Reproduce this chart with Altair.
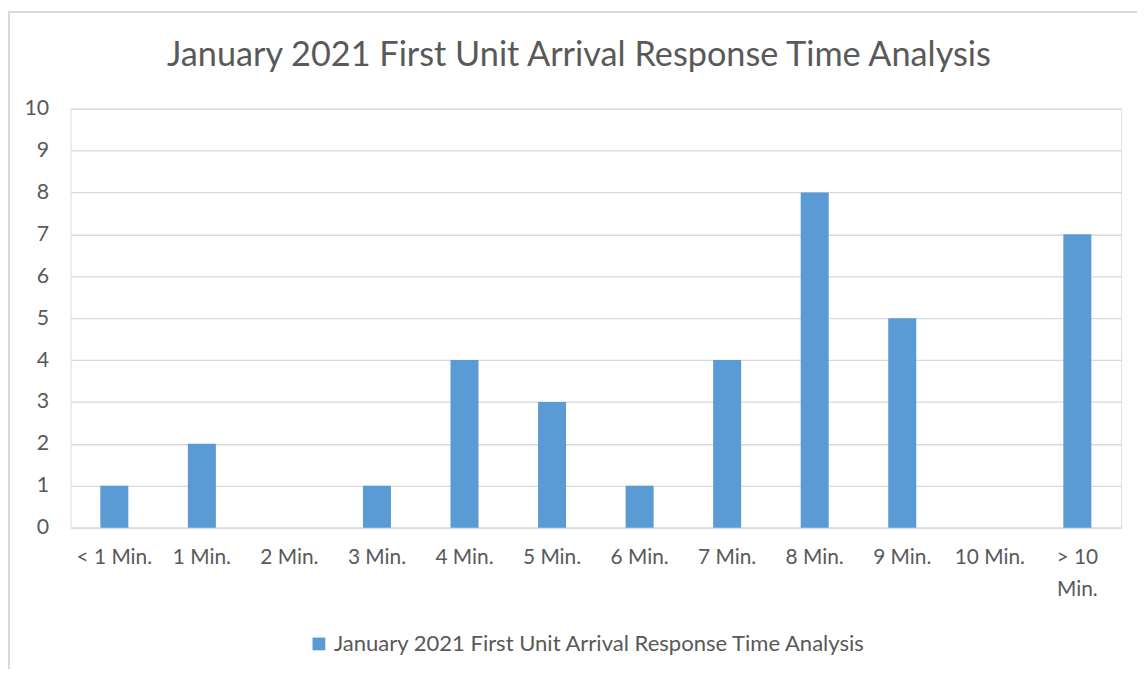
import altair as alt
import pandas as pd

categories = ["< 1 Min.", "1 Min.", "2 Min.", "3 Min.", "4 Min.", "5 Min.",
              "6 Min.", "7 Min.", "8 Min.", "9 Min.", "10 Min.", "> 10 Min."]
counts = [1, 2, 0, 1, 4, 3, 1, 4, 8, 5, 0, 7]
series_name = "January 2021 First Unit Arrival Response Time Analysis"
chart_title = "January 2021 First Unit Arrival Response Time Analysis"
y_ticks = list(range(0, 11))

df = pd.DataFrame({"cat": categories, "count": counts, "series": series_name})
title_df = pd.DataFrame({"t": [chart_title]})

FONT = "Lato"
GREY = "#595959"
GRID = "#d9d9d9"

base = alt.Chart(df)

bars = base.mark_bar(color="#5B9BD5").encode(
    x=alt.X("cat:N", sort=categories,
            scale=alt.Scale(paddingInner=0.68, paddingOuter=0.34),
            axis=alt.Axis(title=None, labelAngle=0, ticks=False, domain=True,
                          domainColor=GRID, domainWidth=1, labelPadding=19,
                          labelFontSize=21, labelColor=GREY, labelFont=FONT,
                          labelBaseline="top", labelLineHeight=32,
                          labelExpr="datum.label == '> 10 Min.' ? ['> 10', 'Min.'] : datum.label")),
    y=alt.Y("count:Q", scale=alt.Scale(domain=[0, 10], nice=False),
            axis=alt.Axis(title=None, values=y_ticks, ticks=False, domain=False,
                          grid=True, gridColor=GRID, gridWidth=1.3,
                          labelPadding=22, labelFontSize=21.5, labelColor=GREY,
                          labelFont=FONT)),
    color=alt.Color("series:N",
                    scale=alt.Scale(range=["#5B9BD5"]),
                    legend=alt.Legend(title=None, orient="none", legendX=239, legendY=528,
                                      symbolType="square", symbolSize=165,
                                      symbolStrokeWidth=0, labelFontSize=22.2,
                                      labelLimit=0,
                                      labelColor=GREY, labelFont=FONT, labelOffset=4)),
)

title_mark = alt.Chart(title_df).mark_text(
    font=FONT, fontSize=34.5, color=GREY, align="center", baseline="alphabetic"
).encode(text="t:N", x=alt.value(512), y=alt.value(-43))

left_border = base.mark_rule(color=GRID, strokeWidth=1.5).encode(
    x=alt.value(-62.5), y=alt.value(-97.5), y2=alt.value(580))
top_border = base.mark_rule(color=GRID, strokeWidth=1.5).encode(
    x=alt.value(-63), x2=alt.value(1080), y=alt.value(-97.5))

chart = alt.layer(bars, title_mark, left_border, top_border).properties(
    width=1058, height=422,
    autosize=alt.AutoSizeParams(type="none"),
    padding={"left": 63, "top": 99, "right": 16, "bottom": 140},
).configure_view(stroke=None).configure(background="white")

chart.save("out.html", embed_options={"renderer": "svg", "actions": False})
